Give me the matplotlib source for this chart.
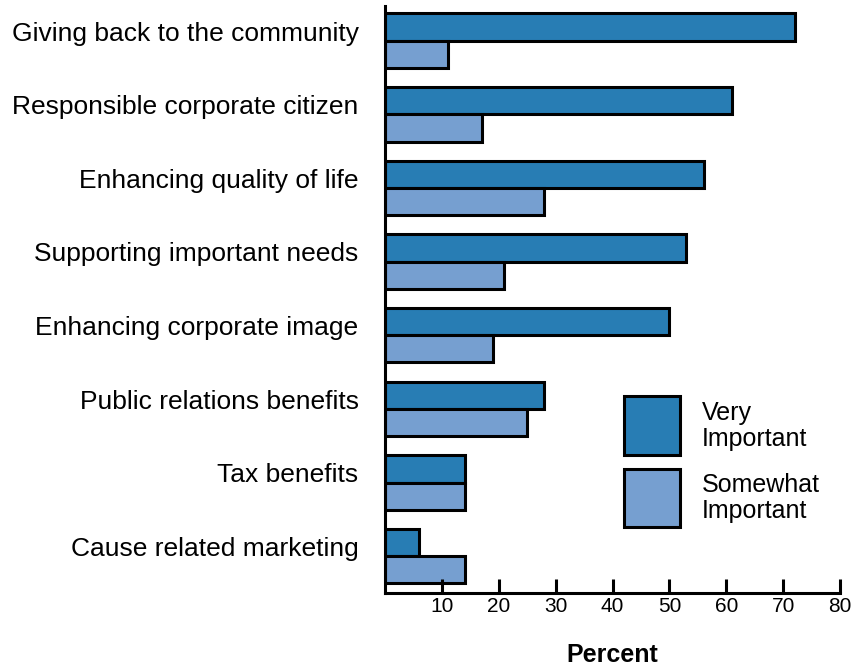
import matplotlib
matplotlib.use("Agg")
import matplotlib.pyplot as plt
from matplotlib.patches import Rectangle
import numpy as np

plt.rcParams['font.family'] = ['Liberation Sans', 'DejaVu Sans']

reasons = [
    "Giving back to the community",
    "Responsible corporate citizen",
    "Enhancing quality of life",
    "Supporting important needs",
    "Enhancing corporate image",
    "Public relations benefits",
    "Tax benefits",
    "Cause related marketing",
]
very_important = [72, 61, 56, 53, 50, 28, 14, 6]
somewhat_important = [11, 17, 28, 21, 19, 25, 14, 14]
xticks = [10, 20, 30, 40, 50, 60, 70, 80]

dark = "#287DB4"
light = "#769FD0"
edge_w = 2.2

fig = plt.figure(figsize=(8.51, 6.66), dpi=100)
ax = fig.add_axes([0.4524, 0.1096, 0.5347, 0.8814])

y = np.arange(len(reasons))
h = 0.37
ax.barh(y - h / 2, very_important, height=h, color=dark,
        edgecolor="black", linewidth=edge_w)
ax.barh(y + h / 2, somewhat_important, height=h, color=light,
        edgecolor="black", linewidth=edge_w)

ax.set_xlim(0, 80)
ax.set_ylim(7.5, -0.47)
ax.set_xticks(xticks)
ax.set_xticklabels([str(t) for t in xticks], fontsize=15)
ax.set_yticks(y - 0.13)
ax.set_yticklabels(reasons, fontsize=19)
ax.tick_params(axis="y", length=0, pad=19)
ax.tick_params(axis="x", direction="in", length=10, width=edge_w, pad=3)

for side in ("top", "right"):
    ax.spines[side].set_visible(False)
for side in ("left", "bottom"):
    ax.spines[side].set_linewidth(edge_w)

ax.set_xlabel("Percent", fontsize=18, fontweight="bold", labelpad=19)

# legend drawn as boxes with two-line labels
entries = [(dark, "Very\nImportant", 0.285), (light, "Somewhat\nImportant", 0.162)]
for color, label, ybox in entries:
    ax.add_patch(Rectangle((0.526, ybox - 0.05), 0.122, 0.1,
                           transform=ax.transAxes, facecolor=color,
                           edgecolor="black", linewidth=edge_w,
                           clip_on=False))
    ax.text(0.696, ybox, label, transform=ax.transAxes, fontsize=18,
            va="center", ha="left", linespacing=1.1)

fig.savefig("out.png", dpi=100)
